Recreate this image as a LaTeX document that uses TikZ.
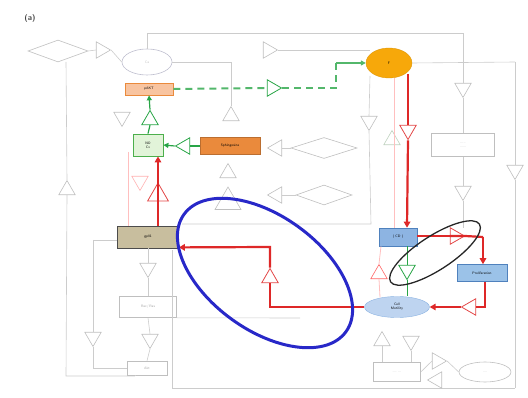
\documentclass[tikz,border=0pt]{standalone}
\usetikzlibrary{shapes.geometric,arrows.meta,calc}
\definecolor{khaki}{RGB}{200,190,158}
\definecolor{orel}{RGB}{247,168,10}
\definecolor{obox}{RGB}{234,138,60}
\definecolor{pkbox}{RGB}{248,196,160}
\definecolor{cdblue}{RGB}{141,180,226}
\definecolor{prblue}{RGB}{155,194,232}
\definecolor{celblue}{RGB}{190,212,240}
\definecolor{bdblue}{RGB}{79,129,189}
\definecolor{rline}{RGB}{222,40,40}
\definecolor{gline}{RGB}{40,165,70}
\definecolor{hblue}{RGB}{40,40,200}
\begin{document}
\begin{tikzpicture}[x=1pt,y=-1pt,
  txt/.style={font=\sffamily\fontsize{3.5}{4}\selectfont, align=center},
  gl/.style={draw=black!20, line width=0.6pt},
  gbox/.style={draw=black!25, line width=0.6pt, fill=white, inner sep=0pt, txt, text=black!35},
  gtri/.style={regular polygon, regular polygon sides=3, draw=black!25, line width=0.6pt, minimum size=19pt, inner sep=0pt, fill=white},
  up/.style={shape border rotate=0},
  dn/.style={shape border rotate=180},
  lf/.style={shape border rotate=90},
  rt/.style={shape border rotate=270},
  rtri/.style={gtri, draw=rline!85, line width=0.8pt},
  grtri/.style={gtri, draw=gline, line width=0.8pt},
  ptri/.style={gtri, draw=red!30},
  redl/.style={draw=rline, line width=2.2pt},
  reda/.style={redl, -{Triangle[length=6pt,width=6.5pt]}},
  grl/.style={draw=gline, line width=1.2pt},
  gra/.style={grl, -{Triangle[length=5pt,width=5pt]}},
  pinkl/.style={draw=red!25, line width=0.8pt},
]
\useasboundingbox (0,0) rectangle (528,398);

% ---------- label
\node[font=\sffamily\bfseries\fontsize{8}{9}\selectfont, text=black!75] (lab) at (30,19) {(a)};

% ---------- grey background network
\node[gbox, diamond, minimum width=60pt, minimum height=22pt] (d1) at (58,51) {};
\node[gtri, rt] (t1) at (101,50) {};
\node[gbox, ellipse, draw=blue!25!black!25, minimum width=50pt, minimum height=26pt] (e1) at (147,62) {\textcolor{black!25}{Ca}};
\coordinate (c1) at (147,33);
\coordinate (c2) at (463,33);
\node[gtri, dn] (t2) at (463,88) {};
\node[gbox, minimum width=63pt, minimum height=23pt] (b2) at (463,145) {.....\\......};
\node[gtri, dn] (t3) at (463,191) {};
\coordinate (c3) at (463,228);
\draw[gl] (e1.north) -- (c1) -- (c2) -- (t2.north);
\draw[gl] (t2.south) -- (b2.north);
\draw[gl] (b2.south) -- (t3.north);
\draw[gl] (t3.south) -- (c3);

\node[gtri, rt] (t4) at (268,50) {};
\node[gtri, up] (t5) at (231,116) {};
\coordinate (c4) at (231,62);
\coordinate (c4b) at (370,50);
\draw[gl] (e1.east) -- (c4) -- (t5.north);
\draw[gl] (d1.east) -- (t1.west);
\draw[gl] (t1.east) -- (e1.west);
\draw[gl] (t4.east) -- (c4b);

\node[gtri, dn] (t6) at (122,117) {};
\node[gtri, up] (t7) at (228,173) {};
\node[gtri, up, minimum size=30pt] (t8) at (228,202) {};

% right diamonds
\node[gbox, diamond, minimum width=66pt, minimum height=21pt] (d2) at (324,148) {};
\node[gtri, lf] (t9) at (277,148) {};
\node[gbox, diamond, minimum width=56pt, minimum height=20pt] (d3) at (324,195) {};
\node[gtri, lf] (t10) at (277,195) {};
\draw[gl] (d2.west) -- (t9.east);
\draw[gl] (d3.west) -- (t10.east);

% left column
\coordinate (c5) at (66,62);
\coordinate (c6) at (66,376);
\coordinate (c7) at (135,376);
\node[gtri, up] (t11) at (67,190) {};
\draw[gl] (c5) -- (t11.north);
\draw[gl] (t11.south) -- (c6) -- (c7);

% boxes under gp91
\node[gtri, dn] (t12) at (148,268) {};
\node[gbox, minimum width=57pt, minimum height=21pt] (b3) at (148,307) {Rac/\,Ras};
\node[gtri, dn] (t13) at (150,339) {};
\node[gbox, minimum width=40pt, minimum height=14pt] (b4) at (147,368) {Akt};
\draw[gl] (t12.south) -- (b3.north);
\draw[gl] (b3.south) -- (t13.north);
\draw[gl] (t13.south) -- (b4.north);
\draw[gl] (c7) -- (c7 |- b4.south);

\coordinate (c8) at (93,240);
\coordinate (c9) at (93,368);
\node[gtri, dn] (t14) at (93,337) {};
\draw[gl] (c8) -- (t14.north);
\draw[gl] (t14.south) -- (c9) -- (b4.west);

\coordinate (c10) at (172,250);
\coordinate (c11) at (172,388);
\coordinate (c12) at (515,388);
\coordinate (c13) at (300,318);
\draw[gl] (c10) -- (c11) -- (c12);
\draw[gl] (b3.south east) -- (c13);

% right column
\coordinate (c14) at (515,62);
\node[gtri, dn] (t15) at (515,170) {};
\draw[gl] (c14) -- (t15.north);
\draw[gl] (t15.south) -- (c12);

\coordinate (c15) at (370,76);
\node[gtri, dn] (t16) at (369,121) {};
\coordinate (c16) at (371,224);
\coordinate (c17) at (182,224);
\draw[gl] (c15) -- (t16.north);
\draw[gl] (t16.south) -- (c16) -- (c17);
\node[gtri, up, draw=green!30!black!25] (t17) at (392,140) {};

% bottom right
\node[gtri, up] (t18) at (382,341) {};
\node[gtri, dn] (t19) at (411,341) {};
\node[gbox, minimum width=47pt, minimum height=19pt] (b5) at (397,372) {.... ...};
\node[gtri, rt] (t20) at (437,361) {};
\node[gtri, lf] (t21) at (437,380) {};
\node[gbox, ellipse, minimum width=52pt, minimum height=20pt] (e2) at (485,372) {....};
\draw[gl] (t18.south) -- (t18.south |- b5.north);
\draw[gl] (t19.south) -- (t19.south |- b5.north);
\draw[gl] (b5.east) -- (t20.west);
\draw[gl] (t20.east) -- (e2.west);

% faint pink accents
\coordinate (p1) at (128,152);
\coordinate (p2) at (128,227);
\draw[pinkl] (p1) -- (p2);
\node[ptri, dn] (t22) at (140,181) {};
\coordinate (p3) at (394,78);
\coordinate (p4) at (394,228);
\draw[pinkl] (p3) -- (p4);

% ---------- coloured nodes
\node[draw=obox, fill=pkbox, line width=0.7pt, minimum width=48pt, minimum height=12pt, inner sep=0pt, txt] (pk) at (149,89) {pAKT};
\node[draw=green!55!black!70, fill=yellow!25!green!15, line width=0.8pt, minimum width=30pt, minimum height=22pt, inner sep=0pt, txt] (gb) at (148,145) {NO\\Cx};
\node[draw=obox!80!black, fill=obox, line width=0.6pt, minimum width=60pt, minimum height=17pt, inner sep=0pt, txt] (ob) at (230,146) {Sphingosine};
\node[draw=black!70, fill=khaki, line width=0.8pt, minimum width=61pt, minimum height=22pt, inner sep=0pt, txt] (gp) at (148,237) {gp91};
\node[ellipse, draw=orel!90!black, fill=orel, minimum width=46pt, minimum height=30pt, inner sep=0pt, txt] (oe) at (389,63) {F};
\node[draw=bdblue, fill=cdblue, line width=0.6pt, minimum width=38pt, minimum height=18pt, inner sep=0pt, txt] (cd) at (398,237) {( CD )};
\node[draw=bdblue, fill=prblue, line width=0.6pt, minimum width=50pt, minimum height=17pt, inner sep=0pt, txt] (pr) at (482,273) {Proliferation};
\node[ellipse, draw=cdblue, fill=celblue, minimum width=65pt, minimum height=21pt, inner sep=0pt, txt] (ce) at (397,307) {Cell\\Motility};

% grey links from the coloured nodes
\draw[gl] (gp.west |- c8) -- (c8);
\draw[gl] (gp.south) -- (t12.north);
\draw[gl] (oe.east) -- (c14);

% ---------- green connections
\node[grtri, up] (gt1) at (150,120) {};
\draw[grl] (gb.north) -- (gt1.south);
\draw[gra] (gt1.north) -- (pk.south);
\node[grtri, lf] (gt2) at (185,146) {};
\draw[grl] (ob.west) -- (gt2.east);
\draw[gra] (gt2.west) -- (gb.east);
\node[grtri, rt] (gt3) at (272,88) {};
\coordinate (g1) at (336,88);
\coordinate (g2) at (336,63);
\draw[grl, dash pattern=on 7pt off 5pt, line width=2pt, draw=gline!80] (pk.east) -- (gt3.west);
\draw[grl, dash pattern=on 7pt off 5pt, line width=2pt, draw=gline!80] (gt3.east) -- (g1) -- (g2);
\draw[gra, draw=gline!80] (g2) -- (oe.west);
\node[grtri, dn] (gt4) at (407,270) {};
\draw[grl, line width=0.8pt] ($(cd.south)+(9,0)$) -- (gt4.north);
\draw[grl, line width=0.8pt] (gt4.south) -- ($(ce.north)+(10,0)$);

% ---------- red connections
\node[rtri, up, minimum size=24pt] (rt1) at (158,195) {};
\draw[reda] ($(gp.north)+(10,0)$) -- ($(gb.south)+(10,0)$);
\node[rtri, dn] (rt2) at (408,130) {};
\coordinate (r0) at ($(oe.south)+(19,-4)$);
\draw[redl] (r0) -- (rt2.north);
\draw[reda] (rt2.south) -- ($(cd.north)+(9,0)$);
\node[rtri, rt] (rt3) at (455,236) {};
\coordinate (r1) at (483,237);
\draw[redl] (cd.east |- rt3.west) -- (rt3.west);
\draw[redl] (rt3.west) -- (rt3.east) -- (r1);
\draw[reda, line width=1.4pt] (r1) -- (pr.north -| r1);
\node[rtri, lf] (rt4) at (471,307) {};
\coordinate (r2) at (485,307);
\draw[redl] (pr.south -| r2) -- (r2) -- (rt4.east);
\draw[reda] (rt4.west) -- (ce.east);
\node[ptri, up, draw=red!60] (rt5) at (379,274) {};
\draw[pinkl] ($(cd.south)+(-17,0)$) -- (rt5.north);
\draw[pinkl] (rt5.south) -- ($(ce.north)+(-17,1)$);
\node[rtri, up] (rt6) at (270,278) {};
\coordinate (r3) at (270,307);
\coordinate (r4) at (270,247);
\coordinate (gpin) at ($(gp.south east)+(0,-1)$);
\draw[redl] (ce.west) -- (r3) -- (rt6.south);
\draw[reda] (rt6.north) -- (r4) -- (gpin);

% ---------- highlight ellipses
\coordinate (be) at (265,273);
\draw[draw=hblue, line width=3pt, rotate around={-36:(be)}] (be) ellipse [x radius=100pt, y radius=57pt];
\coordinate (ke) at (435,253);
\draw[draw=black!85, line width=1.3pt, rotate around={33:(ke)}] (ke) ellipse [x radius=53pt, y radius=17pt];
\end{tikzpicture}
\end{document}
